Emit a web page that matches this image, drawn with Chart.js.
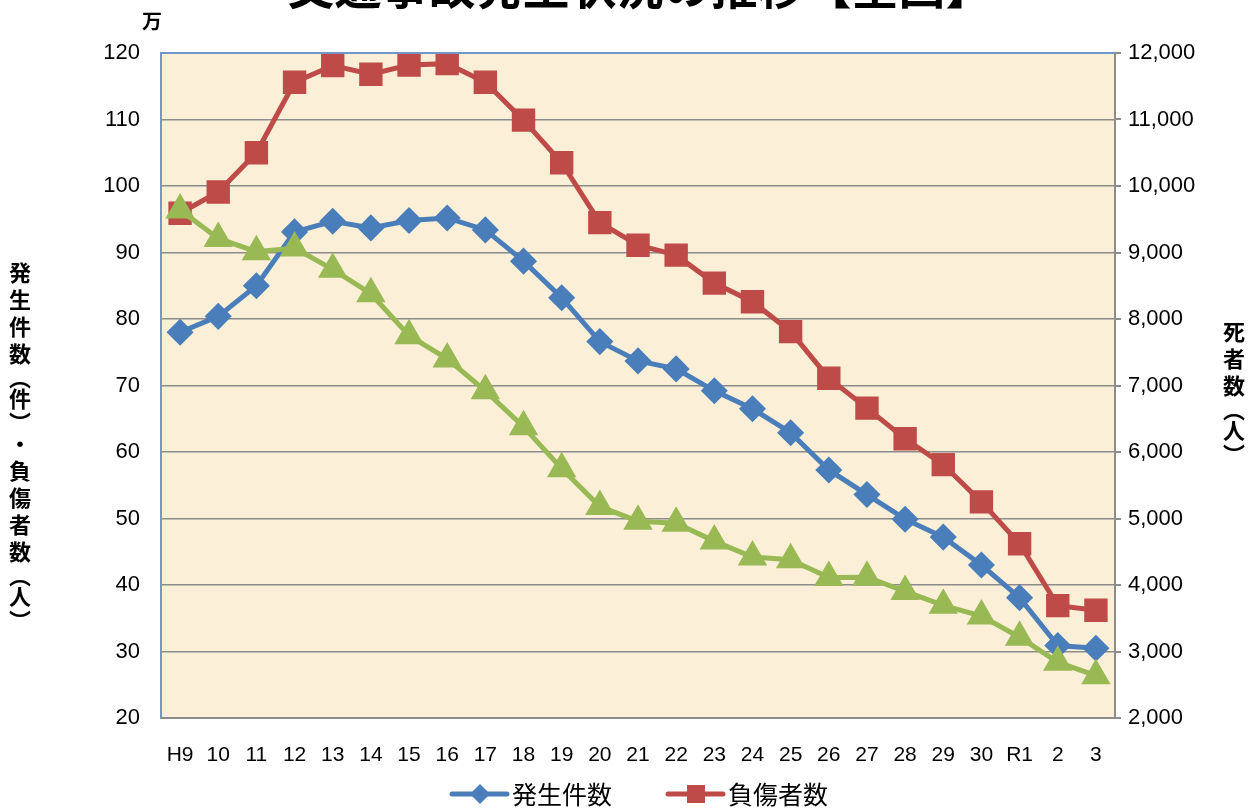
<!DOCTYPE html>
<html>
<head>
<meta charset="utf-8">
<script src="https://cdn.jsdelivr.net/npm/chart.js@4/dist/chart.umd.min.js"></script>
<style>
  html, body { margin: 0; padding: 0; background: #fff; }
  #wrap { width: 1260px; height: 811px; position: relative; }
</style>
</head>
<body>
<div id="wrap"><canvas id="trendChart"></canvas></div>
<script>
// 年次（平成9年〜令和3年）
const years = ['H9', '10', '11', '12', '13', '14', '15', '16', '17', '18', '19', '20',
    '21', '22', '23', '24', '25', '26', '27', '28', '29', '30', 'R1', '2', '3'];

// 発生件数（万件）
const accidents = [78.0, 80.4, 85.0, 93.1, 94.7, 93.7, 94.8, 95.2, 93.4, 88.7, 83.2, 76.6,
    73.7, 72.5, 69.2, 66.5, 62.9, 57.3, 53.6, 49.9, 47.2, 43.0, 38.1, 30.9, 30.5];

// 負傷者数（万人）
const injured = [95.9, 99.1, 105.0, 115.6, 118.1, 116.8, 118.2, 118.4, 115.6, 109.9, 103.5, 94.5,
    91.1, 89.6, 85.4, 82.6, 78.1, 71.1, 66.6, 62.0, 58.1, 52.5, 46.2, 36.9, 36.2];

// 死者数（人）
const deaths = [9640, 9211, 9012, 9066, 8747, 8380, 7750, 7400, 6920, 6380, 5750, 5180,
    4960, 4930, 4660, 4420, 4380, 4113, 4117, 3904, 3694, 3532, 3215, 2839, 2636];

const leftMin = 20, leftMax = 120, leftStep = 10;
const rightMin = 2000, rightMax = 12000, rightStep = 1000;

const BLUE = '#4A7EBB';
const RED = '#BE4B48';
const GREEN = '#98B954';

const jpFont = '"Noto Sans CJK JP", sans-serif';
const numFont = '"Liberation Sans", Arial, sans-serif';

// 背景・枠・タイトル・縦書きラベル・凡例
const decorPlugin = {
    id: 'decor',
    beforeDraw(chart) {
        const { ctx, chartArea: a } = chart;
        ctx.save();
        ctx.fillStyle = '#FBEFD7';
        ctx.fillRect(a.left, a.top, a.right - a.left, a.bottom - a.top);
        ctx.restore();
    },
    afterDatasetsDraw(chart) {
        const { ctx, chartArea: a } = chart;
        ctx.save();
        ctx.strokeStyle = '#7396CB';
        ctx.lineWidth = 2;
        ctx.beginPath();
        ctx.moveTo(a.left, a.bottom);
        ctx.lineTo(a.left, a.top);
        ctx.lineTo(a.right, a.top);
        ctx.stroke();
        ctx.restore();
    },
    afterDraw(chart) {
        const { ctx } = chart;
        ctx.save();
        ctx.fillStyle = '#000';
        ctx.textAlign = 'center';

        // title (cut off at top)
        ctx.font = 'bold 47px ' + jpFont;
        ctx.textBaseline = 'alphabetic';
        ctx.fillText('交通事故発生状況の推移【全国】', 640, 4);

        ctx.font = 'bold 20px ' + jpFont;
        ctx.textBaseline = 'middle';
        ctx.fillText('万', 152, 21);

        // vertical axis titles
        const drawVertical = (chars, x, y) => {
            chars.forEach(c => {
                const half = (c === '︵' || c === '︶');
                const step = half ? 18 : 27;
                ctx.fillText(c, x, y + (half ? -3 : 0));
                y += step;
            });
        };
        ctx.font = 'bold 22px ' + jpFont;
        drawVertical(['発', '生', '件', '数', '︵', '件', '︶', '・', '負', '傷', '者', '数', '︵', '人', '︶'], 20, 273);
        drawVertical(['死', '者', '数', '︵', '人', '︶'], 1234, 332);

        // legend
        const legendItems = [
            { color: BLUE, style: 'diamond', text: '発生件数', x: 452 },
            { color: RED, style: 'square', text: '負傷者数', x: 668 }
        ];
        const ly = 794;
        legendItems.forEach(it => {
            ctx.strokeStyle = it.color;
            ctx.fillStyle = it.color;
            ctx.lineWidth = 5;
            ctx.lineCap = 'round';
            ctx.beginPath();
            ctx.moveTo(it.x, ly);
            ctx.lineTo(it.x + 55, ly);
            ctx.stroke();
            const cx = it.x + 28;
            ctx.beginPath();
            if (it.style === 'diamond') {
                ctx.moveTo(cx, ly - 10);
                ctx.lineTo(cx + 10, ly);
                ctx.lineTo(cx, ly + 10);
                ctx.lineTo(cx - 10, ly);
                ctx.closePath();
            } else {
                ctx.rect(cx - 9, ly - 9, 18, 18);
            }
            ctx.fill();
            ctx.fillStyle = '#000';
            ctx.font = '25px ' + jpFont;
            ctx.textAlign = 'left';
            ctx.textBaseline = 'middle';
            ctx.fillText(it.text, it.x + 60, ly);
        });
        ctx.restore();
    }
};

const ctx = document.getElementById('trendChart').getContext('2d');
new Chart(ctx, {
    type: 'line',
    data: {
        labels: years,
        datasets: [
            {
                label: '死者数',
                data: deaths,
                yAxisID: 'yRight',
                borderColor: GREEN,
                backgroundColor: GREEN,
                borderWidth: 5,
                pointStyle: 'triangle',
                pointRadius: 12,
                pointHoverRadius: 12,
                tension: 0,
                order: 1
            },
            {
                label: '負傷者数',
                data: injured,
                yAxisID: 'yLeft',
                borderColor: RED,
                backgroundColor: RED,
                borderWidth: 5,
                pointStyle: 'rect',
                pointRadius: 13,
                pointHoverRadius: 13,
                tension: 0,
                order: 2
            },
            {
                label: '発生件数',
                data: accidents,
                yAxisID: 'yLeft',
                borderColor: BLUE,
                backgroundColor: BLUE,
                borderWidth: 5,
                pointStyle: 'rectRot',
                pointRadius: 10,
                pointHoverRadius: 10,
                tension: 0,
                order: 3
            }
        ]
    },
    options: {
        responsive: true,
        maintainAspectRatio: false,
        animation: false,
        layout: { padding: { top: 53, left: 0, right: 0, bottom: 0 } },
        plugins: {
            legend: { display: false },
            title: { display: false },
            tooltip: { enabled: false }
        },
        scales: {
            x: {
                offset: true,
                grid: { display: false },
                border: { color: '#8C8C8C', width: 2 },
                ticks: {
                    color: '#000',
                    font: { family: numFont, size: 21 },
                    padding: 17,
                    maxRotation: 0,
                    autoSkip: false
                },
                afterFit(s) { s.height = 93; }
            },
            yLeft: {
                position: 'left',
                min: leftMin,
                max: leftMax,
                ticks: {
                    stepSize: leftStep,
                    color: '#000',
                    font: { family: numFont, size: 22 },
                    padding: 21
                },
                grid: { color: '#8C8C8C', lineWidth: 1.5, drawTicks: false },
                border: { display: false },
                afterFit(s) { s.width = 161; }
            },
            yRight: {
                position: 'right',
                min: rightMin,
                max: rightMax,
                ticks: {
                    stepSize: rightStep,
                    color: '#000',
                    font: { family: numFont, size: 22 },
                    padding: 7,
                    callback: v => v.toLocaleString('en-US')
                },
                grid: { drawOnChartArea: false, drawTicks: true, tickLength: 6, color: '#8C8C8C', lineWidth: 2 },
                border: { color: '#8C8C8C', width: 2 },
                afterFit(s) { s.width = 145; }
            }
        }
    },
    plugins: [decorPlugin]
});
</script>
</body>
</html>
